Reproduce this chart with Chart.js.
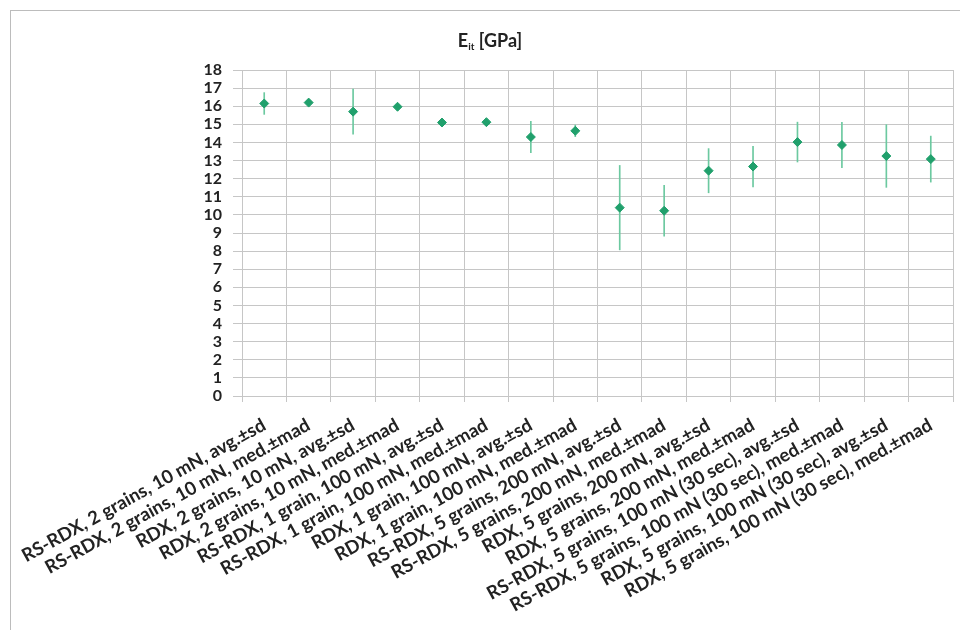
<!DOCTYPE html>
<html>
<head>
<meta charset="utf-8">
<script src="https://cdn.jsdelivr.net/npm/chart.js@4/dist/chart.umd.min.js"></script>
<style>
  html, body { margin: 0; padding: 0; background: #fff; overflow: hidden; }
  #wrap { position: relative; width: 960px; height: 630px; }
  #frame { position: absolute; left: 10px; top: 10px; width: 1000px; height: 700px;
           border-left: 1px solid #bcbcbc; border-top: 1px solid #bcbcbc; }
  #title { position: absolute; left: 0; width: 980px; top: 29px; text-align: center;
           font: bold 18px Lato, sans-serif; color: #222; }
  #title sub { font-size: 10px; vertical-align: -3px; }
  canvas { position: absolute; left: 0; top: 0; }
</style>
</head>
<body>
<div id="wrap">
  <div id="frame"></div>
  <canvas id="chart" width="960" height="630"></canvas>
  <div id="title">E<sub>it</sub> [GPa]</div>
</div>
<script>
// カテゴリ（試料・条件・統計）
const categories = [
  'RS-RDX, 2 grains, 10 mN, avg.±sd',
  'RS-RDX, 2 grains, 10 mN, med.±mad',
  'RDX, 2 grains, 10 mN, avg.±sd',
  'RDX, 2 grains, 10 mN, med.±mad',
  'RS-RDX, 1 grain, 100 mN, avg.±sd',
  'RS-RDX, 1 grain, 100 mN, med.±mad',
  'RDX, 1 grain, 100 mN, avg.±sd',
  'RDX, 1 grain, 100 mN, med.±mad',
  'RS-RDX, 5 grains, 200 mN, avg.±sd',
  'RS-RDX, 5 grains, 200 mN, med.±mad',
  'RDX, 5 grains, 200 mN, avg.±sd',
  'RDX, 5 grains, 200 mN, med.±mad',
  'RS-RDX, 5 grains, 100 mN (30 sec), avg.±sd',
  'RS-RDX, 5 grains, 100 mN (30 sec), med.±mad',
  'RDX, 5 grains, 100 mN (30 sec), avg.±sd',
  'RDX, 5 grains, 100 mN (30 sec), med.±mad',
];

// E_it の値と誤差（sd / mad）
const eitValues = [16.15, 16.2, 15.7, 15.97, 15.1, 15.12, 14.3, 14.64,
                   10.4, 10.23, 12.44, 12.67, 14.02, 13.86, 13.25, 13.08];
const eitErrors = [0.6, 0.15, 1.25, 0.15, 0.2, 0.15, 0.86, 0.32,
                   2.33, 1.4, 1.22, 1.12, 1.1, 1.25, 1.73, 1.27];

// y軸の目盛り
const yMin = 0;
const yMax = 18;
const yStep = 1;

const green = '#20a06c';
const errGreen = '#6cc9a0';
const gridColor = '#c6c6c6';

// エラーバーは細い浮動棒グラフで描く
const errorRanges = eitValues.map((v, i) => [v - eitErrors[i], v + eitErrors[i]]);

new Chart(document.getElementById('chart').getContext('2d'), {
  type: 'bar',
  data: {
    labels: categories,
    datasets: [
      {
        type: 'line',
        label: 'E_it',
        data: eitValues,
        showLine: false,
        pointStyle: 'rectRot',
        pointRadius: 4.5,
        pointBackgroundColor: green,
        pointBorderColor: green,
        pointBorderWidth: 1,
        order: 0,
      },
      {
        label: 'error',
        data: errorRanges,
        backgroundColor: errGreen,
        barThickness: 1,
        borderSkipped: false,
        order: 1,
      },
    ],
  },
  options: {
    responsive: false,
    animation: false,
    layout: { padding: { top: 70, right: 7, left: 0, bottom: 0 } },
    scales: {
      x: {
        offset: true,
        grid: { color: gridColor, offset: true, tickLength: 6 },
        border: { color: gridColor },
        ticks: {
          color: '#222',
          font: { family: 'Lato', weight: 'bold', size: 18.5 },
          minRotation: 29,
          maxRotation: 29,
          autoSkip: false,
          padding: 12,
        },
        afterFit: s => { s.height = 234; },
      },
      y: {
        min: yMin,
        max: yMax,
        grid: { color: gridColor, tickLength: 9 },
        border: { color: gridColor },
        ticks: {
          stepSize: yStep,
          autoSkip: false,
          color: '#222',
          font: { family: 'Lato', weight: 'bold', size: 16 },
          padding: 11,
        },
        afterFit: s => { s.width = 242; },
      },
    },
    plugins: {
      legend: { display: false },
      tooltip: { enabled: false },
    },
  },
});
</script>
</body>
</html>
